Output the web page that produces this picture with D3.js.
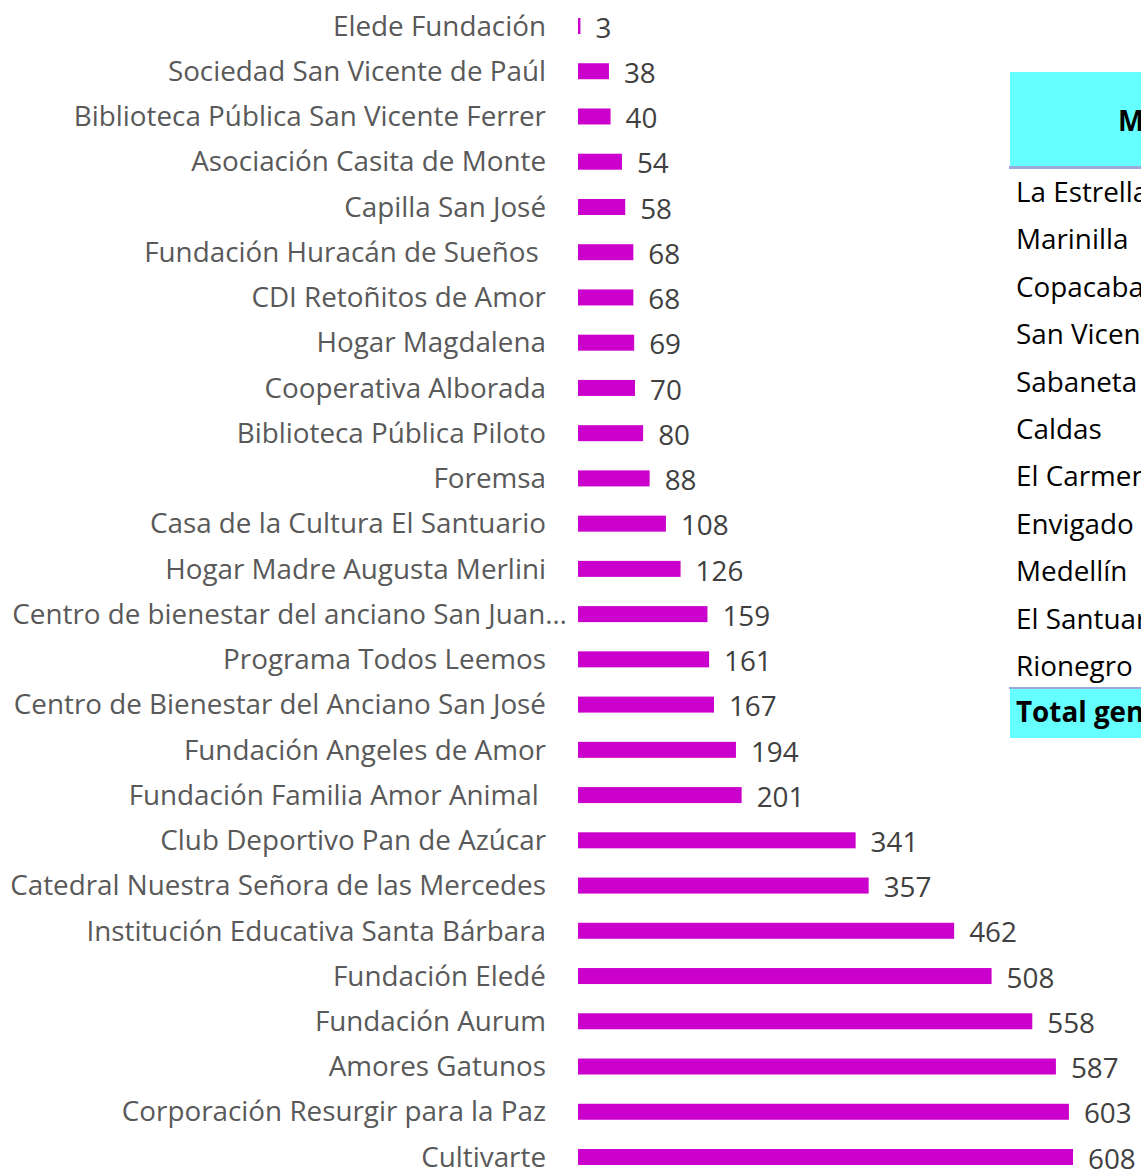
<!DOCTYPE html>
<html>
<head>
<meta charset="utf-8">
<script src="https://cdn.jsdelivr.net/npm/d3@7"></script>
<style>
  body { margin: 0; background: #fff; }
  svg text { white-space: pre; }
</style>
</head>
<body>
<div id="chart"></div>
<script>
// categories (top to bottom) and values
var categories = [
  "Elede Fundación",
  "Sociedad San Vicente de Paúl",
  "Biblioteca Pública San Vicente Ferrer",
  "Asociación Casita de Monte",
  "Capilla San José",
  "Fundación Huracán de Sueños ",
  "CDI Retoñitos de Amor",
  "Hogar Magdalena",
  "Cooperativa Alborada",
  "Biblioteca Pública Piloto",
  "Foremsa",
  "Casa de la Cultura El Santuario",
  "Hogar Madre Augusta Merlini",
  "Centro de bienestar del anciano San Juan…",
  "Programa Todos Leemos",
  "Centro de Bienestar del Anciano San José",
  "Fundación Angeles de Amor",
  "Fundación Familia Amor Animal ",
  "Club Deportivo Pan de Azúcar",
  "Catedral Nuestra Señora de las Mercedes",
  "Institución Educativa Santa Bárbara",
  "Fundación Eledé",
  "Fundación Aurum",
  "Amores Gatunos",
  "Corporación Resurgir para la Paz",
  "Cultivarte"
];
var values = [3, 38, 40, 54, 58, 68, 68, 69, 70, 80, 88, 108, 126, 159, 161, 167, 194, 201, 341, 357, 462, 508, 558, 587, 603, 608];

// pivot table on the right (cut off by the page edge)
var tableHeader = "Municipio";
var municipios = ["La Estrella", "Marinilla", "Copacabana", "San Vicente", "Sabaneta", "Caldas", "El Carmen", "Envigado", "Medellín", "El Santuario", "Rionegro"];
var totalLabel = "Total general";

var width = 1141, height = 1169;
var fontFam = "'Open Sans', 'Noto Sans', sans-serif";

var svg = d3.select("#chart").append("svg")
    .attr("width", width)
    .attr("height", height);

// fit label font to the widths seen in the original
function measure(s){
    var t = svg.append("text")
        .style("font-family", fontFam)
        .style("font-size", "100px")
        .text(s);
    var w = t.node().getComputedTextLength();
    t.remove();
    return w;
}
var fs = Math.min(
    100 * 536 / measure("Catedral Nuestra Señora de las Mercedes"),
    100 * 556 / measure("Centro de bienestar del anciano San Juan…")
);

var x = d3.scaleLinear()
    .domain([0, 608])
    .range([578, 1073]);

var y = d3.scalePoint()
    .domain(categories)
    .range([26, 1157]);

var barH = 16;

var rows = svg.selectAll("g.row")
    .data(categories.map(function(c, i){ return {name: c, value: values[i]}; }))
    .enter()
  .append("g")
    .attr("class", "row");

rows.append("rect")
    .attr("x", x(0))
    .attr("y", function(d){ return y(d.name) - barH / 2; })
    .attr("width", function(d){ return Math.max(1.5, x(d.value) - x(0)); })
    .attr("height", barH)
    .style("fill", "#cc00cc");

// truncated label runs past the usual right edge, like in excel
rows.append("text")
    .attr("x", function(d){ return d.name.slice(-1) == "…" ? 567 : 546; })
    .attr("y", function(d){ return y(d.name); })
    .attr("dy", "0.35em")
    .attr("text-anchor", "end")
    .style("font-family", fontFam)
    .style("font-size", fs + "px")
    .style("fill", "#595959")
    .text(function(d){ return d.name; });

rows.append("text")
    .attr("x", function(d){ return x(d.value) + 15; })
    .attr("y", function(d){ return y(d.name); })
    .attr("dy", "0.42em")
    .style("font-family", fontFam)
    .style("font-size", fs + "px")
    .style("fill", "#404040")
    .text(function(d){ return d.value; });

// table
var tbl = svg.append("g");
tbl.append("rect")
    .attr("x", 1010).attr("y", 72)
    .attr("width", width - 1010).attr("height", 94)
    .style("fill", "#66ffff");
tbl.append("rect")
    .attr("x", 1009).attr("y", 166)
    .attr("width", width - 1009).attr("height", 3)
    .style("fill", "#9aa8dc");
tbl.append("text")
    .attr("x", 1118).attr("y", 131)
    .style("font-family", fontFam)
    .style("font-size", fs + "px")
    .style("font-weight", "bold")
    .style("fill", "#000")
    .text(tableHeader);

var ty = d3.scalePoint()
    .domain(municipios)
    .range([202, 676]);

tbl.selectAll("text.muni")
    .data(municipios)
    .enter()
  .append("text")
    .attr("class", "muni")
    .attr("x", 1016)
    .attr("y", function(d){ return ty(d); })
    .style("font-family", fontFam)
    .style("font-size", fs + "px")
    .style("fill", "#000")
    .text(function(d){ return d; });

tbl.append("rect")
    .attr("x", 1009).attr("y", 687)
    .attr("width", width - 1009).attr("height", 2)
    .style("fill", "#9aa8dc");
tbl.append("rect")
    .attr("x", 1010).attr("y", 689)
    .attr("width", width - 1010).attr("height", 49)
    .style("fill", "#66ffff");
tbl.append("text")
    .attr("x", 1016).attr("y", 722)
    .style("font-family", fontFam)
    .style("font-size", fs + "px")
    .style("font-weight", "bold")
    .style("fill", "#000")
    .text(totalLabel);
</script>
</body>
</html>
